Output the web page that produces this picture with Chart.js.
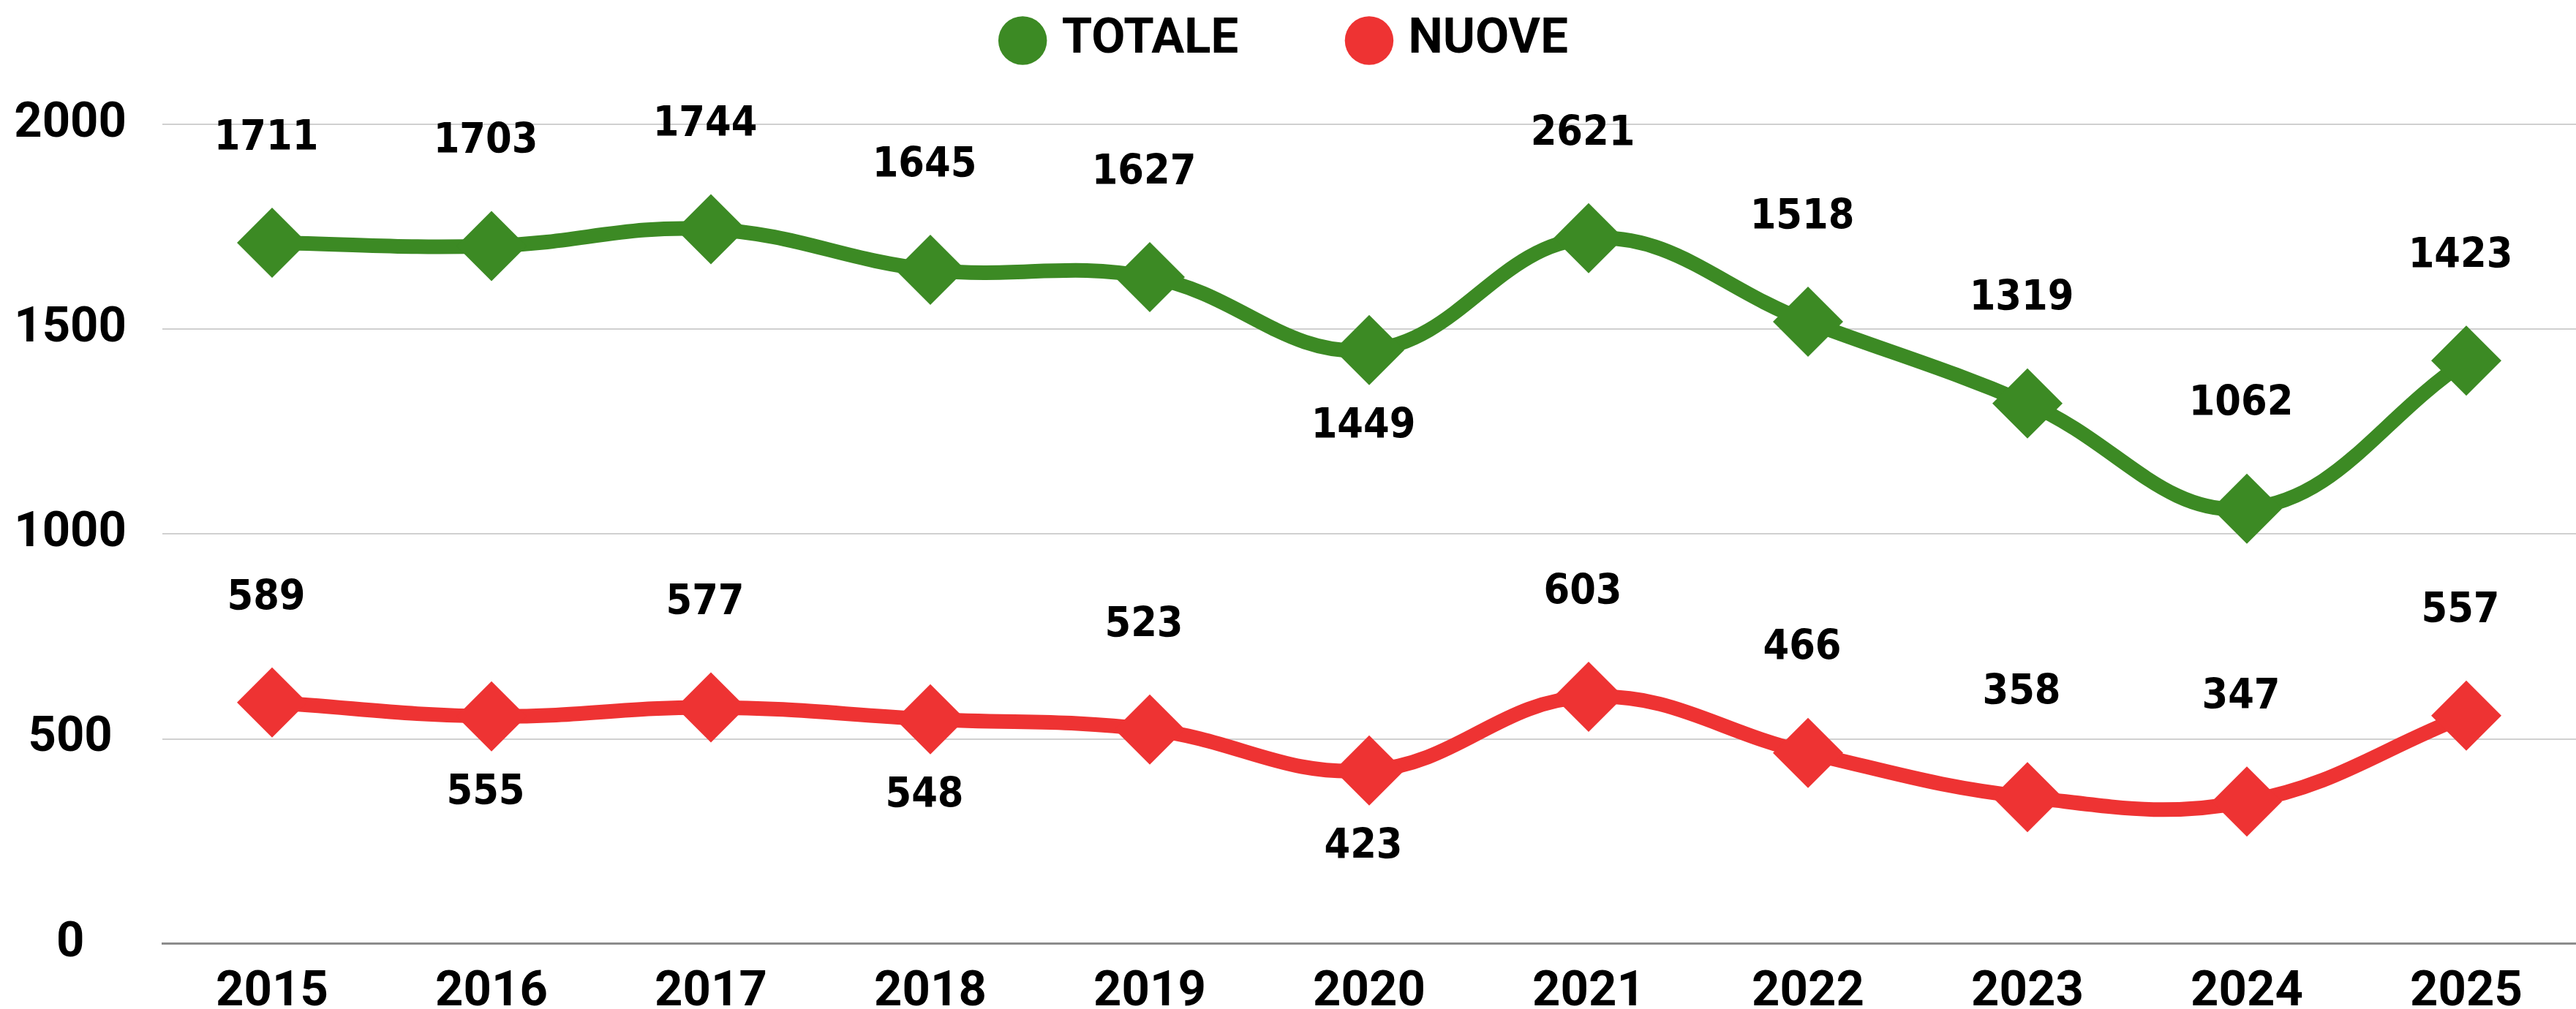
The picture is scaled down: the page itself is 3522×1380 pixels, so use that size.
<!DOCTYPE html>
<html>
<head>
<meta charset="utf-8">
<script src="https://cdn.jsdelivr.net/npm/chart.js@4"></script>
<style>
  html, body { margin: 0; padding: 0; background: #fff; }
  #wrap { width: 3522px; height: 1380px; }
</style>
</head>
<body>
<div id="wrap"><canvas id="myChart" width="3522" height="1380"></canvas></div>
<script>
// years on the x axis
const years = ['2015', '2016', '2017', '2018', '2019', '2020', '2021', '2022', '2023', '2024', '2025'];

// series values as plotted
const totale = [1711, 1703, 1744, 1645, 1627, 1449, 1722, 1518, 1319, 1062, 1423];
const nuove = [589, 555, 577, 548, 523, 423, 603, 466, 358, 347, 557];

// label text printed next to each point (the 2021 total is printed as 2621 in the original)
const totaleLabels = ['1711', '1703', '1744', '1645', '1627', '1449', '2621', '1518', '1319', '1062', '1423'];
const nuoveLabels = ['589', '555', '577', '548', '523', '423', '603', '466', '358', '347', '557'];

// which side of the point each label sits on
const totaleSide = ['up', 'up', 'up', 'up', 'up', 'down', 'up', 'up', 'up', 'up', 'up'];
const nuoveSide = ['up', 'down', 'up', 'down', 'up', 'down', 'up', 'up', 'up', 'up', 'up'];

const yTicks = [0, 500, 1000, 1500, 2000];

const GREEN = '#3c8a24';
const RED = '#ee3333';
const tickFont = { family: 'Roboto', size: 67, weight: 'bold' };

// draws the value labels above / below the points
const pointLabels = {
  id: 'pointLabels',
  afterDatasetsDraw(chart) {
    const ctx = chart.ctx;
    ctx.save();
    ctx.font = 'bold 57px "Liberation Sans Narrow", "DejaVu Sans Condensed", sans-serif';
    ctx.fillStyle = '#000';
    ctx.textAlign = 'center';
    ctx.textBaseline = 'middle';
    chart.data.datasets.forEach((ds, i) => {
      const meta = chart.getDatasetMeta(i);
      meta.data.forEach((pt, j) => {
        const up = ds.labelSide[j] === 'up';
        const y = up ? pt.y - 142 : pt.y + 105;
        ctx.fillText(ds.pointText[j], pt.x - 8, y);
      });
    });
    ctx.restore();
  }
};

// give the legend a bit more room underneath
const legendSpace = {
  id: 'legendSpace',
  beforeInit(chart) {
    const fit = chart.legend.fit;
    chart.legend.fit = function () {
      fit.bind(chart.legend)();
      this.height += 71;
    };
  }
};

const ctx = document.getElementById('myChart').getContext('2d');
const chart = new Chart(ctx, {
  type: 'line',
  data: {
    labels: years,
    datasets: [{
      label: 'TOTALE\u2003\u2003',
      data: totale,
      pointText: totaleLabels,
      labelSide: totaleSide,
      borderColor: GREEN,
      backgroundColor: GREEN,
      borderWidth: 20,
      tension: 0.4,
      pointStyle: 'rectRot',
      pointRadius: 48,
      pointHoverRadius: 48,
      pointBorderWidth: 0
    }, {
      label: 'NUOVE',
      data: nuove,
      pointText: nuoveLabels,
      labelSide: nuoveSide,
      borderColor: RED,
      backgroundColor: RED,
      borderWidth: 20,
      tension: 0.4,
      pointStyle: 'rectRot',
      pointRadius: 48,
      pointHoverRadius: 48,
      pointBorderWidth: 0
    }]
  },
  options: {
    responsive: false,
    animation: false,
    layout: { padding: 0, autoPadding: false },
    plugins: {
      tooltip: { enabled: false },
      legend: {
        position: 'top',
        labels: {
          usePointStyle: true,
          pointStyle: 'circle',
          boxHeight: 47,
          padding: 22,
          color: '#000',
          font: tickFont
        }
      }
    },
    scales: {
      x: {
        offset: true,
        grid: { display: false, drawTicks: false },
        border: { display: true, color: '#8c8c8c', width: 3 },
        ticks: { color: '#000', font: tickFont, padding: 27 },
        afterFit(scale) {
          scale.height = 86;
          scale.paddingLeft = 0;
          scale.paddingRight = 0;
        }
      },
      y: {
        min: 0,
        max: 2000,
        afterBuildTicks(scale) {
          scale.ticks = yTicks.map(v => ({ value: v }));
        },
        afterFit(scale) { scale.width = 222; },
        grid: {
          drawTicks: false,
          lineWidth: 2,
          color: c => c.tick && c.tick.value === 0 ? '#8c8c8c' : '#d0d0d0'
        },
        border: { display: false },
        ticks: {
          color: '#000',
          font: tickFont,
          padding: 49,
          crossAlign: 'center',
          callback: v => String(v)
        }
      }
    }
  },
  plugins: [pointLabels, legendSpace]
});
</script>
</body>
</html>
